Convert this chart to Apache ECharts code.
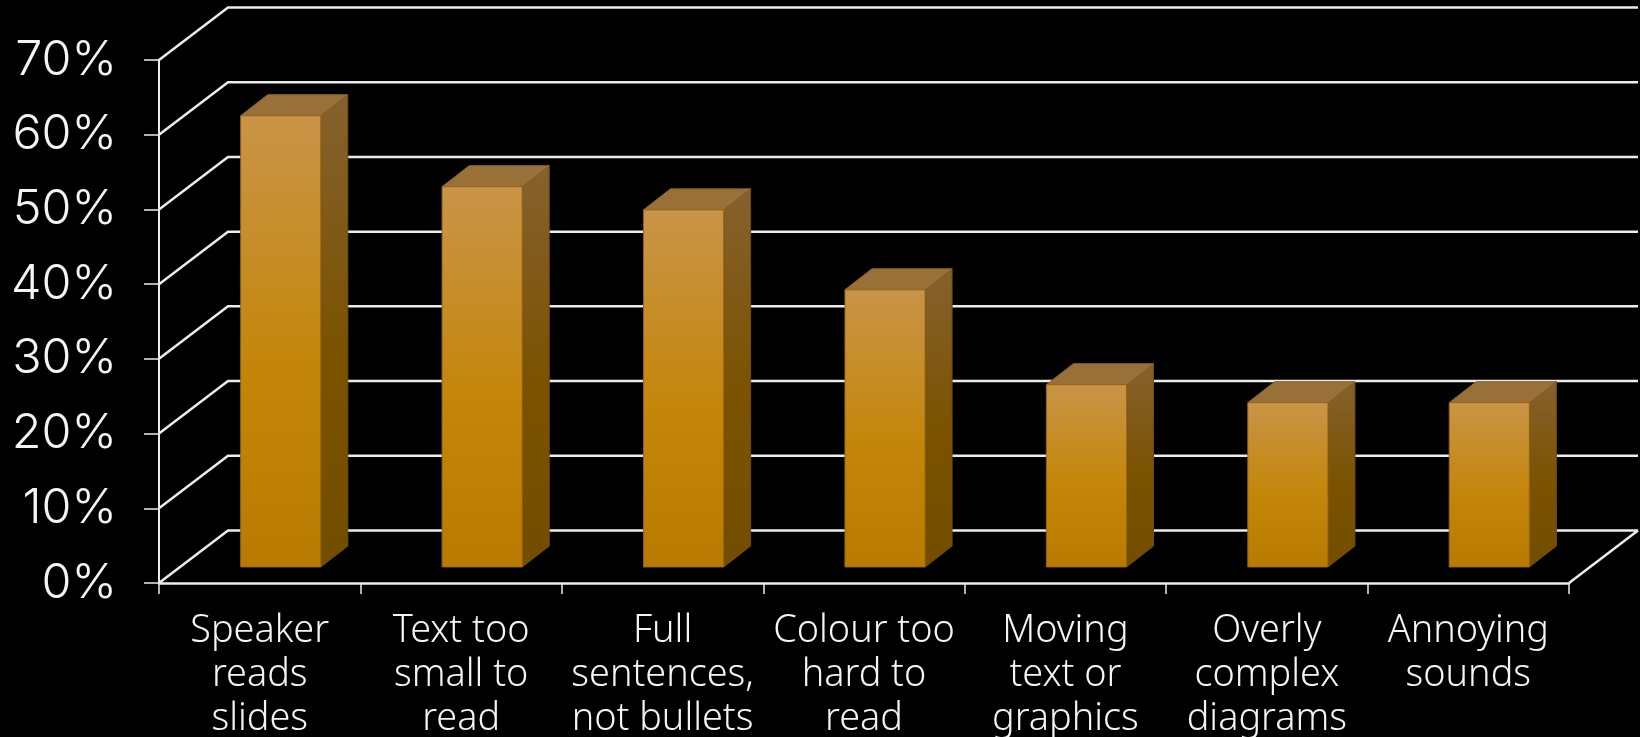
<!DOCTYPE html>
<html>
<head>
<meta charset="utf-8">
<style>html,body{margin:0;padding:0;background:#000}#c{width:1640px;height:737px}</style>
<script src="https://cdn.jsdelivr.net/npm/echarts@6/dist/echarts.min.js"></script>
</head>
<body>
<div id="c"></div>
<script>
var categories = ['Speaker\nreads\nslides','Text too\nsmall to\nread','Full\nsentences,\nnot bullets','Colour too\nhard to\nread','Moving\ntext or\ngraphics','Overly\ncomplex\ndiagrams','Annoying\nsounds'];
var values = [60.4, 50.9, 47.8, 37.1, 24.4, 22, 22];
var gridTicks = [0,10,20,30,40,50,60,70];

var LINE = '#ececec';
var WALL_DX = 69, WALL_DY = 52.5;    // depth of the 3D wall
var BAR_SHIFT_X = 21, BAR_SHIFT_Y = 16; // bars stand inside the floor
var BAR_DX = 27, BAR_DY = 21;        // depth of each bar
var BAR_RATIO = 0.398;

function grad(stops){
  return new echarts.graphic.LinearGradient(0,0,0,1,stops.map(function(s){return {offset:s[0],color:s[1]};}));
}

var chart = echarts.init(document.getElementById('c'), null, {renderer:'canvas'});
chart.setOption({
  backgroundColor:'#000',
  animation:false,
  grid:{left:159,right:71,top:60,bottom:154,containLabel:false,outerBoundsMode:'none'},
  xAxis:{
    type:'category',data:categories,
    axisLine:{show:true,lineStyle:{color:LINE,width:2.5}},
    axisTick:{show:true,length:11,lineStyle:{color:LINE,width:1.5}},
    axisLabel:{color:'#f4f4f4',fontFamily:'Noto Sans',fontWeight:300,fontSize:37.8,lineHeight:44,margin:26,interval:0,verticalAlign:'top',hideOverlap:false}
  },
  yAxis:{
    type:'value',min:0,max:70,interval:10,
    axisLine:{show:true,lineStyle:{color:LINE,width:2}},
    axisTick:{show:true,length:15,lineStyle:{color:LINE,width:1.5}},
    splitLine:{show:false},
    axisLabel:{color:'#f4f4f4',fontFamily:'Inter',fontWeight:300,fontSize:48.5,margin:42,padding:[14,0,0,0],formatter:'{value}%',hideOverlap:false}
  },
  series:[
    {
      type:'custom',z:1,silent:true,clip:false,
      data:gridTicks.map(function(v){return [0,v];}),
      renderItem:function(params,api){
        var cs = params.coordSys;
        var y = api.coord([0,api.value(1)])[1];
        var pts = [[cs.x,y],[cs.x+WALL_DX,y-WALL_DY],[cs.x+cs.width+WALL_DX,y-WALL_DY]];
        var children = [{type:'polyline',shape:{points:pts},style:{stroke:LINE,lineWidth:2.5,fill:null}}];
        if(api.value(1)===0){
          children.push({type:'polyline',shape:{points:[[cs.x+cs.width,y],[cs.x+cs.width+WALL_DX,y-WALL_DY]]},style:{stroke:LINE,lineWidth:2.5,fill:null}});
        }
        return {type:'group',children:children};
      }
    },
    {
      type:'custom',z:2,silent:true,clip:false,
      data:values.map(function(v,i){return [i,v];}),
      renderItem:function(params,api){
        var idx = api.value(0);
        var top = api.coord([idx,api.value(1)]);
        var base = api.coord([idx,0]);
        var w = api.size([1,0])[0]*BAR_RATIO;
        var l = top[0]-w/2+BAR_SHIFT_X, r = l+w;
        var t = top[1]-BAR_SHIFT_Y, b = base[1]-BAR_SHIFT_Y;
        var edge = 'rgba(150,100,20,0.9)';
        return {type:'group',children:[
          {type:'polygon',shape:{points:[[r,t],[r+BAR_DX,t-BAR_DY],[r+BAR_DX,b-BAR_DY],[r,b]]},
           style:{fill:grad([[0,'#86612e'],[0.55,'#7a5200'],[1,'#734d00']]),stroke:'#6f4d10',lineWidth:1}},
          {type:'polygon',shape:{points:[[l,t],[l+BAR_DX,t-BAR_DY],[r+BAR_DX,t-BAR_DY],[r,t]]},
           style:{fill:'#997038',stroke:'#8a6530',lineWidth:1}},
          {type:'rect',shape:{x:l,y:t,width:w,height:b-t},
           style:{fill:grad([[0,'#c99448'],[0.55,'#c4860a'],[1,'#b87a00']]),stroke:edge,lineWidth:1}}
        ]};
      }
    }
  ]
});
</script>
</body>
</html>
